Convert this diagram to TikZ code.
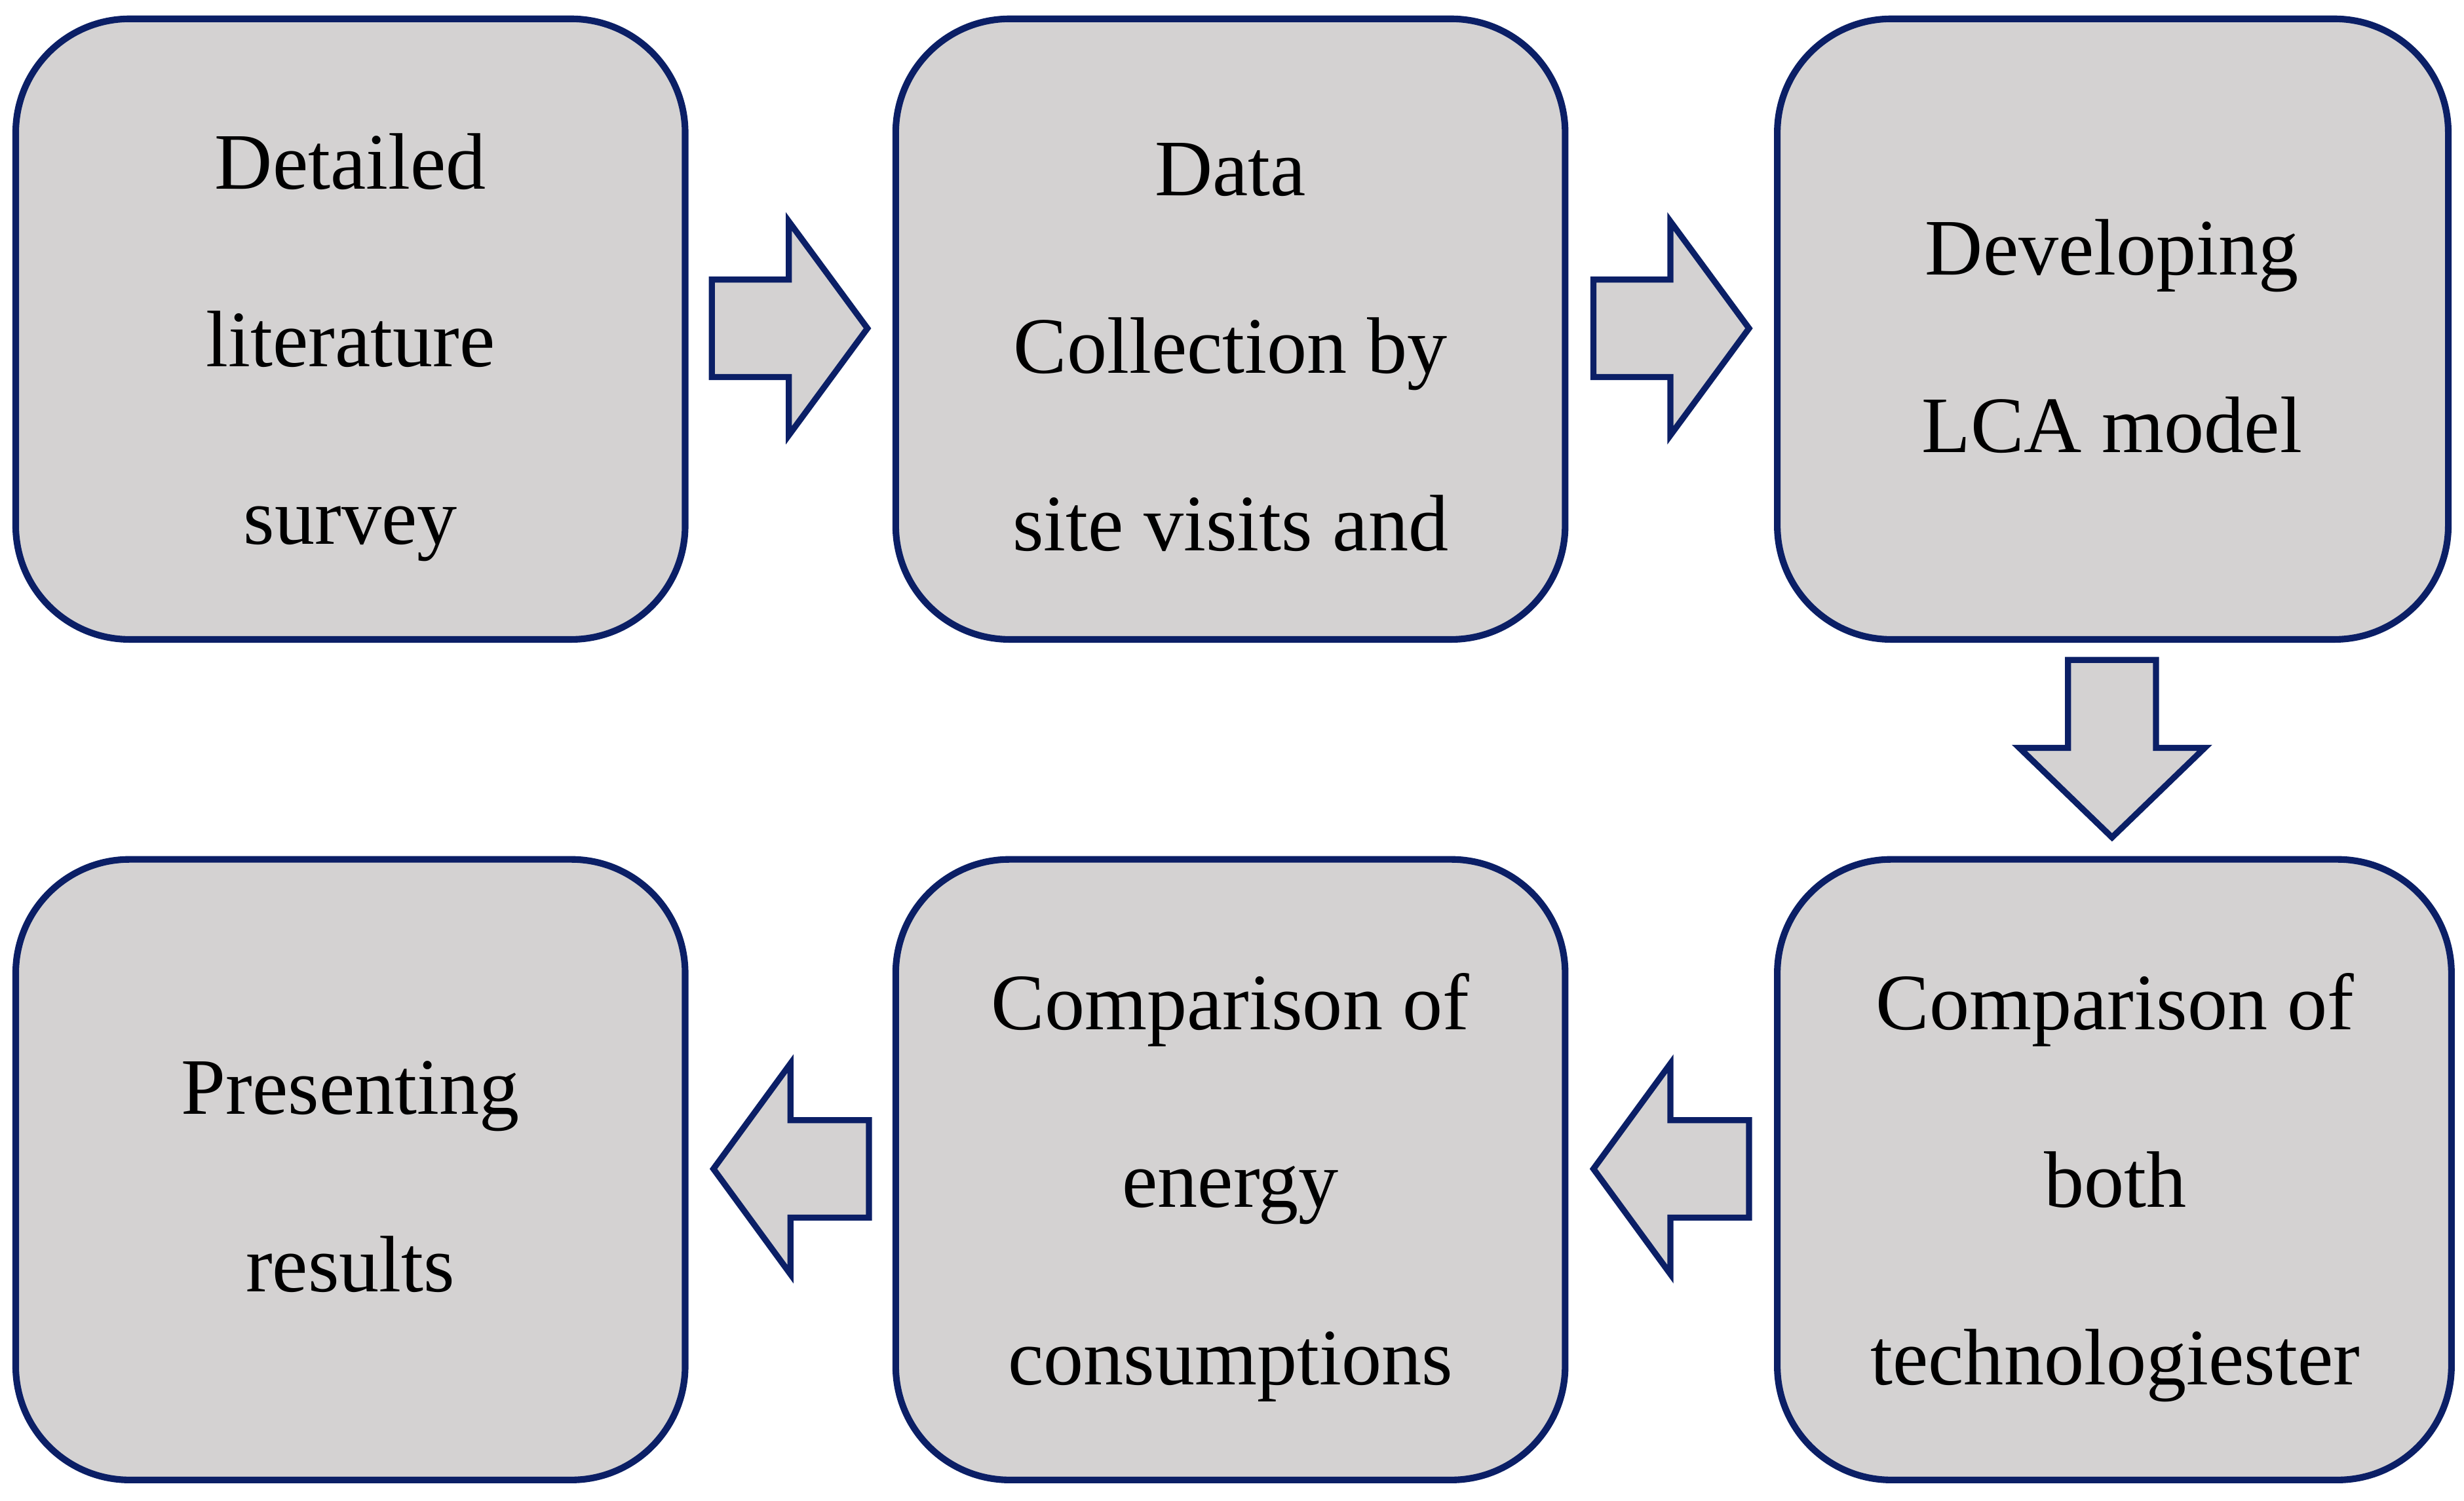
\documentclass[tikz,border=0pt]{standalone}
\usepackage{fontspec}
\setmainfont{Liberation Serif}
\definecolor{navy}{HTML}{0B1F66}
\definecolor{boxgray}{HTML}{D4D2D2}
\tikzset{
  box/.style={draw=navy, fill=boxgray, line width=2.4pt, rounded corners=1.45cm},
  txt/.style={align=center, font=\fontsize{29}{64.3}\selectfont, inner sep=0pt},
  arr/.style={draw=navy, fill=boxgray, line width=2.2pt, line join=miter}
}
\begin{document}
\begin{tikzpicture}[x=0.02cm,y=-0.02cm]
\useasboundingbox (0,0) rectangle (1568,955);
% boxes
\draw[box] (10,12) rectangle (436,407);
\draw[box] (570,12) rectangle (996,407);
\draw[box] (1131,12) rectangle (1558,407);
\draw[box] (10,547) rectangle (436,942);
\draw[box] (570,547) rectangle (996,942);
\draw[box] (1131,547) rectangle (1560,942);
% texts
\node[txt] (t1) at (223,221) {Detailed\\literature\\survey};
\node[txt] (t2) at (783,221) {Data\\Collection by\\site visits and};
\node[txt] (t3) at (1344,214) {Developing\\LCA model};
\node[txt] (t4) at (223,749) {Presenting\\results};
\node[txt] (t5) at (783,756) {Comparison of\\energy\\consumptions};
\node[txt] (t6) at (1346,756) {Comparison of\\both\\technologiester};
% arrows
\draw[arr] (453,178) -- (502,178) -- (502,141) -- (552,209) -- (502,277) -- (502,240) -- (453,240) -- cycle;
\draw[arr] (1014,178) -- (1063,178) -- (1063,141) -- (1113,209) -- (1063,277) -- (1063,240) -- (1014,240) -- cycle;
\draw[arr] (1316,420) -- (1372,420) -- (1372,476) -- (1403,476) -- (1344,533) -- (1285,476) -- (1316,476) -- cycle;
\draw[arr] (553,713) -- (503,713) -- (503,677) -- (454,744) -- (503,811) -- (503,775) -- (553,775) -- cycle;
\draw[arr] (1113,713) -- (1063,713) -- (1063,677) -- (1014,744) -- (1063,811) -- (1063,775) -- (1113,775) -- cycle;
\end{tikzpicture}
\end{document}
